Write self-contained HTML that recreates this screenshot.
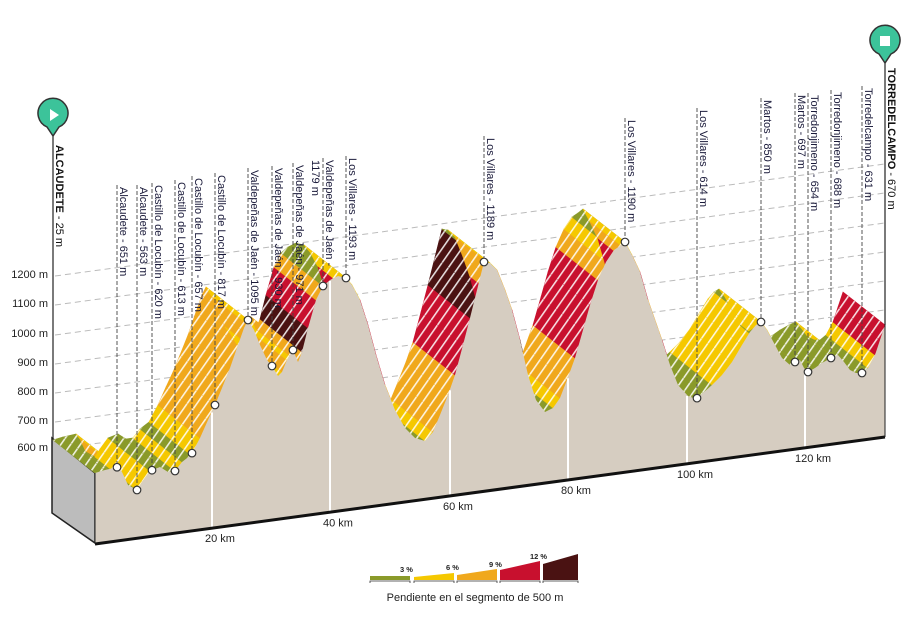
<!DOCTYPE html>
<html><head><meta charset="utf-8"><style>
html,body{margin:0;padding:0;background:#fff;}
svg{display:block;font-family:"Liberation Sans",sans-serif;}
</style></head><body>
<svg id="s" width="914" height="639" viewBox="0 0 914 639" xmlns="http://www.w3.org/2000/svg">
<defs>
<pattern id="st" width="8" height="8" patternUnits="userSpaceOnUse" patternTransform="rotate(35)">
<rect x="0" y="0" width="1.6" height="8" fill="#fff" opacity="0.85"/>
</pattern>
</defs>
<g id="grid"></g>
<polygon points="52,438 95,473 95,543 52,513" fill="#bcbcbc" stroke="#222" stroke-width="1.5"/>
<g id="band"></g>
<g id="front"></g>
<g id="labels" font-size="11" fill="#1a1a3a"></g>
<line x1="53" y1="128" x2="53" y2="438" stroke="#222" stroke-width="1.2"/>
<path d="M53,136 L47,127 A15,15 0 1 1 59,127 Z" fill="#3cc39a" stroke="#333" stroke-width="1.5"/>
<polygon points="50,109 50,121 59,115" fill="#fff"/>
<line x1="885" y1="55" x2="885" y2="325" stroke="#222" stroke-width="1.2"/>
<path d="M885,63 L879,54 A15,15 0 1 1 891,54 Z" fill="#3cc39a" stroke="#333" stroke-width="1.5"/>
<rect x="880" y="36" width="10" height="10" fill="#fff"/>
<text transform="translate(56,145) rotate(90)" font-size="11" font-weight="bold" fill="#111">ALCAUDETE <tspan font-weight="normal">- 25 m</tspan></text>
<text transform="translate(888,68) rotate(90)" font-size="11" font-weight="bold" fill="#111">TORREDELCAMPO <tspan font-weight="normal">- 670 m</tspan></text>
<g>
<rect x="370" y="576" width="40" height="4" fill="#8a9a2a"/>
<polygon points="414,580 454,580 454,573 414,577" fill="#f5c800"/>
<polygon points="457,580 497,580 497,569 457,575" fill="#f0a81c"/>
<polygon points="500,580 540,580 540,561 500,570" fill="#c8102e"/>
<polygon points="543,580 578,580 578,554 543,564" fill="#4a1212"/>
<g stroke="#333" stroke-width="0.8" fill="none">
<path d="M370,583 v-2 h40 v2"/><path d="M414,583 v-2 h40 v2"/><path d="M457,583 v-2 h40 v2"/><path d="M500,583 v-2 h40 v2"/><path d="M543,583 v-2 h35 v2"/>
</g>
<g font-size="7.5" font-weight="bold" fill="#222">
<text x="400" y="572">3 %</text><text x="446" y="570">6 %</text><text x="489" y="567">9 %</text><text x="530" y="559">12 %</text>
</g>
<text x="475" y="601" font-size="11" text-anchor="middle" fill="#222">Pendiente en el segmento de 500 m</text>
</g>
</svg>
<script>
var NS="http://www.w3.org/2000/svg";
function el(p,t,a,txt){var e=document.createElementNS(NS,t);for(var k in a)e.setAttribute(k,a[k]);if(txt!==undefined)e.textContent=txt;p.appendChild(e);return e;}
var P=[[95,473],[105,470],[118,467],[122,472],[128,485],[137,490],[142,482],[150,471],[160,467],[168,472],[175,471],[182,462],[191,455],[200,438],[208,420],[215,405],[222,388],[230,368],[238,345],[244,328],[248,320],[254,330],[260,345],[267,360],[272,366],[278,376],[282,372],[287,360],[293,350],[298,362],[302,352],[308,328],[316,300],[323,286],[330,280],[338,276],[346,278],[352,285],[360,300],[368,325],[376,355],[385,385],[395,410],[405,428],[415,438],[425,441],[433,432],[440,415],[448,395],[455,375],[463,345],[470,318],[477,290],[484,262],[490,263],[497,270],[505,290],[512,310],[520,340],[528,375],[536,400],[545,412],[553,408],[560,398],[567,380],[575,358],[583,330],[590,305],[598,280],[606,262],[614,250],[620,246],[625,242],[632,255],[640,272],[648,300],[655,320],[662,340],[670,365],[678,385],[688,396],[696,399],[703,393],[712,385],[722,375],[732,362],[742,345],[750,332],[756,325],[761,322],[767,330],[775,345],[782,358],[790,365],[795,362],[800,360],[804,368],[808,372],[815,368],[822,363],[831,358],[838,355],[844,362],[850,370],[856,373],[862,373],[868,368],[875,355],[880,340],[885,325]];
var DX=-42,DY=-33;
var g=document.getElementById('grid');
var lv=[[600,447],[700,420],[800,391],[900,362],[1000,333],[1100,303],[1200,274]];
lv.forEach(function(l){var y=l[1]+2;el(g,'line',{x1:55,y1:y,x2:885,y2:y-0.135*830,stroke:'#bbb','stroke-width':1,'stroke-dasharray':'6,4'});
el(g,'text',{x:48,y:l[1]+4,'font-size':11,'text-anchor':'end',fill:'#222'},l[0]+' m');});
var b=document.getElementById('band');
function col(gr){gr=Math.abs(gr);if(gr<3)return'#8a9a2a';if(gr<6)return'#f5c800';if(gr<9)return'#f0a81c';if(gr<12)return'#c8102e';return'#4a1212';}
for(var i=0;i<P.length-1;i++){var a=P[i],c=P[i+1];var gr=(a[1]-c[1])/(c[0]-a[0])*3.0;
var pts=[a,c,[c[0]+DX,c[1]+DY],[a[0]+DX,a[1]+DY]].map(function(p){return p.join(',')}).join(' ');
el(b,'polygon',{points:pts,fill:col(gr),stroke:col(gr),'stroke-width':0.6});
el(b,'polygon',{points:pts,fill:'url(#st)'});}
var f=document.getElementById('front');
var fp=P.map(function(p){return p.join(',')}).join(' ')+' 885,437 95,543';
el(f,'polygon',{points:fp,fill:'#d6cdc1'});
var kms=[[212,'20 km'],[330,'40 km'],[450,'60 km'],[568,'80 km'],[687,'100 km'],[805,'120 km']];
function prof(x){for(var i=0;i<P.length-1;i++){if(x>=P[i][0]&&x<=P[i+1][0]){var t=(x-P[i][0])/(P[i+1][0]-P[i][0]);return P[i][1]+t*(P[i+1][1]-P[i][1]);}}return 400;}
function by(x){return 543-0.135*(x-95);}
kms.forEach(function(k){el(f,'line',{x1:k[0],y1:prof(k[0])+1,x2:k[0],y2:by(k[0]),stroke:'#fff','stroke-width':2});
el(f,'text',{x:k[0]+8,y:by(k[0])+15,'font-size':11,'text-anchor':'middle',fill:'#222'},k[1]);});
el(f,'line',{x1:95,y1:544,x2:885,y2:437,stroke:'#111','stroke-width':3});
el(f,'line',{x1:885,y1:325,x2:885,y2:437,stroke:'#222','stroke-width':1});
el(f,'line',{x1:95,y1:473,x2:95,y2:543,stroke:'#222','stroke-width':1});
var L=document.getElementById('labels');
var M=[[117,187,'Alcaudete - 651 m'],[137,187,'Alcaudete - 563 m'],[152,185,'Castillo de Locubín - 620 m'],[175,182,'Castillo de Locubín - 613 m'],[192,178,'Castillo de Locubín - 657 m'],[215,175,'Castillo de Locubín - 817 m'],[248,170,'Valdepeñas de Jaén - 1095 m'],[272,168,'Valdepeñas de Jaén - 930 m'],[293,165,'Valdepeñas de Jaén - 971 m'],[323,160,''],[346,158,'Los Villares - 1193 m'],[484,138,'Los Villares - 1189 m'],[625,120,'Los Villares - 1190 m'],[697,110,'Los Villares - 614 m'],[761,100,'Martos - 850 m'],[795,95,'Martos - 697 m'],[808,95,'Torredonjimeno - 654 m'],[831,92,'Torredonjimeno - 688 m'],[862,88,'Torredelcampo - 631 m']];
M.forEach(function(m){var y=prof(m[0]);
el(L,'line',{x1:m[0],y1:m[1]-2,x2:m[0],y2:y,stroke:'#444','stroke-width':0.9,'stroke-dasharray':'4,2'});
if(m[2])el(L,'text',{transform:'translate('+(m[0]+3)+','+m[1]+') rotate(90)'},m[2]);});
el(L,'text',{transform:'translate(312,160) rotate(90)'},'1179 m');
el(L,'text',{transform:'translate(326,160) rotate(90)'},'Valdepeñas de Jaén -');
M.forEach(function(m){el(L,'circle',{cx:m[0],cy:prof(m[0]),r:3.8,fill:'#fff',stroke:'#333','stroke-width':1.2});});
</script>
</body></html>
